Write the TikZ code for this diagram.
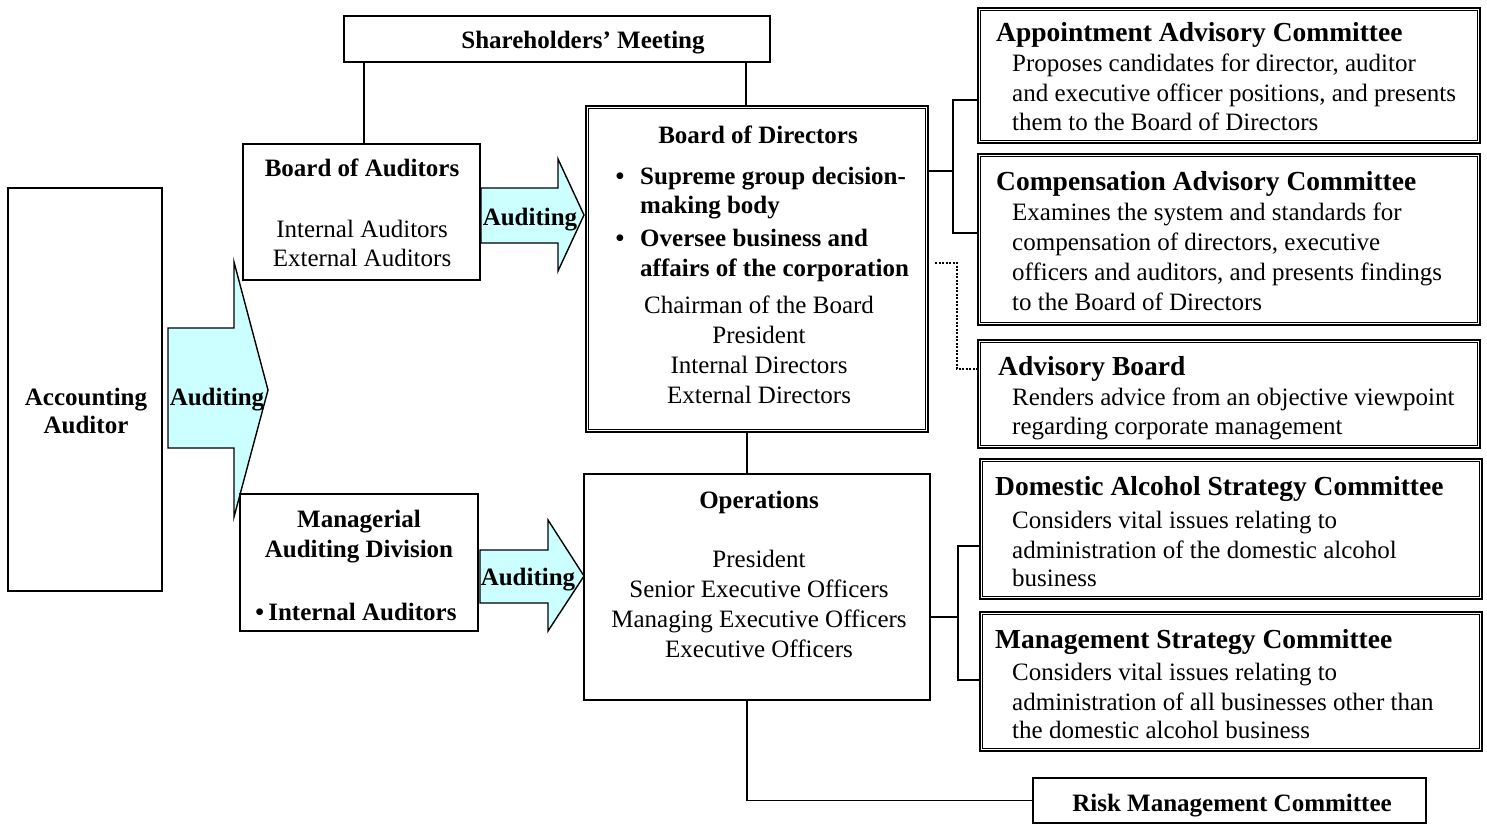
\documentclass[tikz,border=0pt]{standalone}
\usepackage{fontspec}
\setmainfont{Liberation Serif}
\definecolor{arrowfill}{RGB}{204,255,255}
\begin{document}
\begin{tikzpicture}[x=1pt,y=-1pt,
  box/.style={draw, line width=1.6pt, inner sep=0pt},
  dbox/.style={draw, line width=2pt, inner sep=0pt},
  innerline/.style={draw, line width=1pt},
  txt/.style={inner sep=0pt, font=\fontsize{25}{30}\selectfont},
  btxt/.style={inner sep=0pt, font=\fontsize{25}{30}\selectfont\bfseries},
  ttl/.style={inner sep=0pt, font=\fontsize{27.5}{30}\selectfont\bfseries},
  conn/.style={line width=1.6pt},
  dotconn/.style={line width=1.6pt, dash pattern=on 2pt off 1.5pt},
  blockarrow/.style={draw, line width=1.4pt, fill=arrowfill, line join=miter},
]
\useasboundingbox (0,0) rectangle (1487,825);

% block arrows
\draw[blockarrow] (168,328) -- (234,328) -- (234,262) -- (268,390) -- (234,517) -- (234,448) -- (168,448) -- cycle;
\draw[blockarrow] (481,188) -- (558,188) -- (558,159) -- (584,215) -- (558,271) -- (558,243) -- (481,243) -- cycle;
\draw[blockarrow] (480,550) -- (548,550) -- (548,520) -- (584,576) -- (548,631) -- (548,603) -- (480,603) -- cycle;

% boxes
\node[box, minimum width=426pt, minimum height=46pt] (sh) at (557,39) {};
\node[box, minimum width=237pt, minimum height=136pt] (boa) at (361.5,212) {};
\node[box, minimum width=154pt, minimum height=403pt] (acc) at (85,389.5) {};
\node[box, minimum width=238pt, minimum height=137pt] (mad) at (359,562.5) {};
\node[dbox, minimum width=342pt, minimum height=326pt] (bod) at (757,269) {};
\node[box, minimum width=346pt, minimum height=226pt] (ops) at (757,587) {};
\node[dbox, minimum width=502pt, minimum height=135pt] (app) at (1229,75.5) {};
\node[dbox, minimum width=502pt, minimum height=171pt] (comp) at (1229,239.5) {};
\node[dbox, minimum width=502pt, minimum height=108pt] (adv) at (1229,394) {};
\node[dbox, minimum width=502pt, minimum height=140pt] (dom) at (1231,529) {};
\node[dbox, minimum width=502pt, minimum height=139pt] (mgmt) at (1231,681.5) {};
\node[box, minimum width=393pt, minimum height=45pt] (risk) at (1229.5,800.5) {};

% inner lines of the double-bordered boxes
\foreach \b in {bod,app,comp,adv,dom,mgmt}
  \draw[innerline] ([xshift=3.5pt,yshift=-3.5pt]\b.north west) rectangle ([xshift=-3.5pt,yshift=3.5pt]\b.south east);

% connector helper coordinates
\coordinate (xB) at (364,0);
\coordinate (xS) at (746,0);
\coordinate (xO) at (747,0);
\coordinate (jA) at (953,100);
\coordinate (jB) at (953,233);
\coordinate (jC) at (953,171);
\coordinate (jD) at (957,263);
\coordinate (jE) at (957,369);
\coordinate (jF) at (958,617);
\coordinate (jG) at (958,546);
\coordinate (jH) at (958,680);

% connectors
\draw[conn] (sh.south -| xB) -- (boa.north -| xB);
\draw[conn] (sh.south -| xS) -- (bod.north -| xS);
\draw[conn] (bod.south -| xO) -- (ops.north -| xO);
\draw[conn] (ops.south -| xO) |- (risk.west);
\draw[conn] (bod.east |- jC) -- (jC);
\draw[conn] (app.west |- jA) -- (jA) -- (jB) -- (comp.west |- jB);
\draw[dotconn] ([xshift=6pt]bod.east |- jD) -- (jD) -- (jE) -- (adv.west |- jE);
\draw[conn] (ops.east |- jF) -- (jF);
\draw[conn] (dom.west |- jG) -- (jG) -- (jH) -- (mgmt.west |- jH);

% texts
\node[btxt, anchor=base] (shT) at (583,48) {Shareholders’ Meeting};

\node[btxt, anchor=base] (boaT) at (362,176) {Board of Auditors};
\node[txt, anchor=base] (boa1) at (362,237) {Internal Auditors};
\node[txt, anchor=base] (boa2) at (362,266) {External Auditors};

\node[btxt, anchor=base] (acc1) at (86,405) {Accounting};
\node[btxt, anchor=base] (acc2) at (86,433) {Auditor};

\node[btxt, anchor=base] (au1) at (217,405) {Auditing};
\node[btxt, anchor=base] (au2) at (530,225) {Auditing};
\node[btxt, anchor=base] (au3) at (528,585) {Auditing};

\node[btxt, anchor=base] (mad1) at (359,527) {Managerial};
\node[btxt, anchor=base] (mad2) at (359,557) {Auditing Division};
\node[btxt, anchor=base] (mad3) at (356,620) {•\,Internal Auditors};

\node[btxt, anchor=base] (bodT) at (758,143) {Board of Directors};
\node[btxt, anchor=base] (bb1) at (620,184) {•};
\node[btxt, anchor=base west] (bod1) at (640,184) {Supreme group decision-};
\node[btxt, anchor=base west] (bod2) at (640,213) {making body};
\node[btxt, anchor=base] (bb2) at (620,246) {•};
\node[btxt, anchor=base west] (bod3) at (640,246) {Oversee business and};
\node[btxt, anchor=base west] (bod4) at (640,276) {affairs of the corporation};
\node[txt, anchor=base] (bod5) at (759,313) {Chairman of the Board};
\node[txt, anchor=base] (bod6) at (759,343) {President};
\node[txt, anchor=base] (bod7) at (759,373) {Internal Directors};
\node[txt, anchor=base] (bod8) at (759,403) {External Directors};

\node[btxt, anchor=base] (opsT) at (759,508) {Operations};
\node[txt, anchor=base] (ops1) at (759,567) {President};
\node[txt, anchor=base] (ops2) at (759,597) {Senior Executive Officers};
\node[txt, anchor=base] (ops3) at (759,627) {Managing Executive Officers};
\node[txt, anchor=base] (ops4) at (759,657) {Executive Officers};

\node[ttl, anchor=base west] (appT) at (996,41) {Appointment Advisory Committee};
\node[txt, anchor=base west] (app1) at (1012,71) {Proposes candidates for director, auditor};
\node[txt, anchor=base west] (app2) at (1012,101) {and executive officer positions, and presents};
\node[txt, anchor=base west] (app3) at (1012,130) {them to the Board of Directors};

\node[ttl, anchor=base west] (compT) at (996,190) {Compensation Advisory Committee};
\node[txt, anchor=base west] (comp1) at (1012,220) {Examines the system and standards for};
\node[txt, anchor=base west] (comp2) at (1012,250) {compensation of directors, executive};
\node[txt, anchor=base west] (comp3) at (1012,280) {officers and auditors, and presents findings};
\node[txt, anchor=base west] (comp4) at (1012,310) {to the Board of Directors};

\node[ttl, anchor=base west] (advT) at (998,375) {Advisory Board};
\node[txt, anchor=base west] (adv1) at (1012,405) {Renders advice from an objective viewpoint};
\node[txt, anchor=base west] (adv2) at (1012,434) {regarding corporate management};

\node[ttl, anchor=base west] (domT) at (995,495) {Domestic Alcohol Strategy Committee};
\node[txt, anchor=base west] (dom1) at (1012,528) {Considers vital issues relating to};
\node[txt, anchor=base west] (dom2) at (1012,558) {administration of the domestic alcohol};
\node[txt, anchor=base west] (dom3) at (1012,586) {business};

\node[ttl, anchor=base west] (mgmtT) at (995,648) {Management Strategy Committee};
\node[txt, anchor=base west] (mgmt1) at (1012,680) {Considers vital issues relating to};
\node[txt, anchor=base west] (mgmt2) at (1012,710) {administration of all businesses other than};
\node[txt, anchor=base west] (mgmt3) at (1012,738) {the domestic alcohol business};

\node[btxt, anchor=base] (riskT) at (1232,811) {Risk Management Committee};
\end{tikzpicture}
\end{document}
